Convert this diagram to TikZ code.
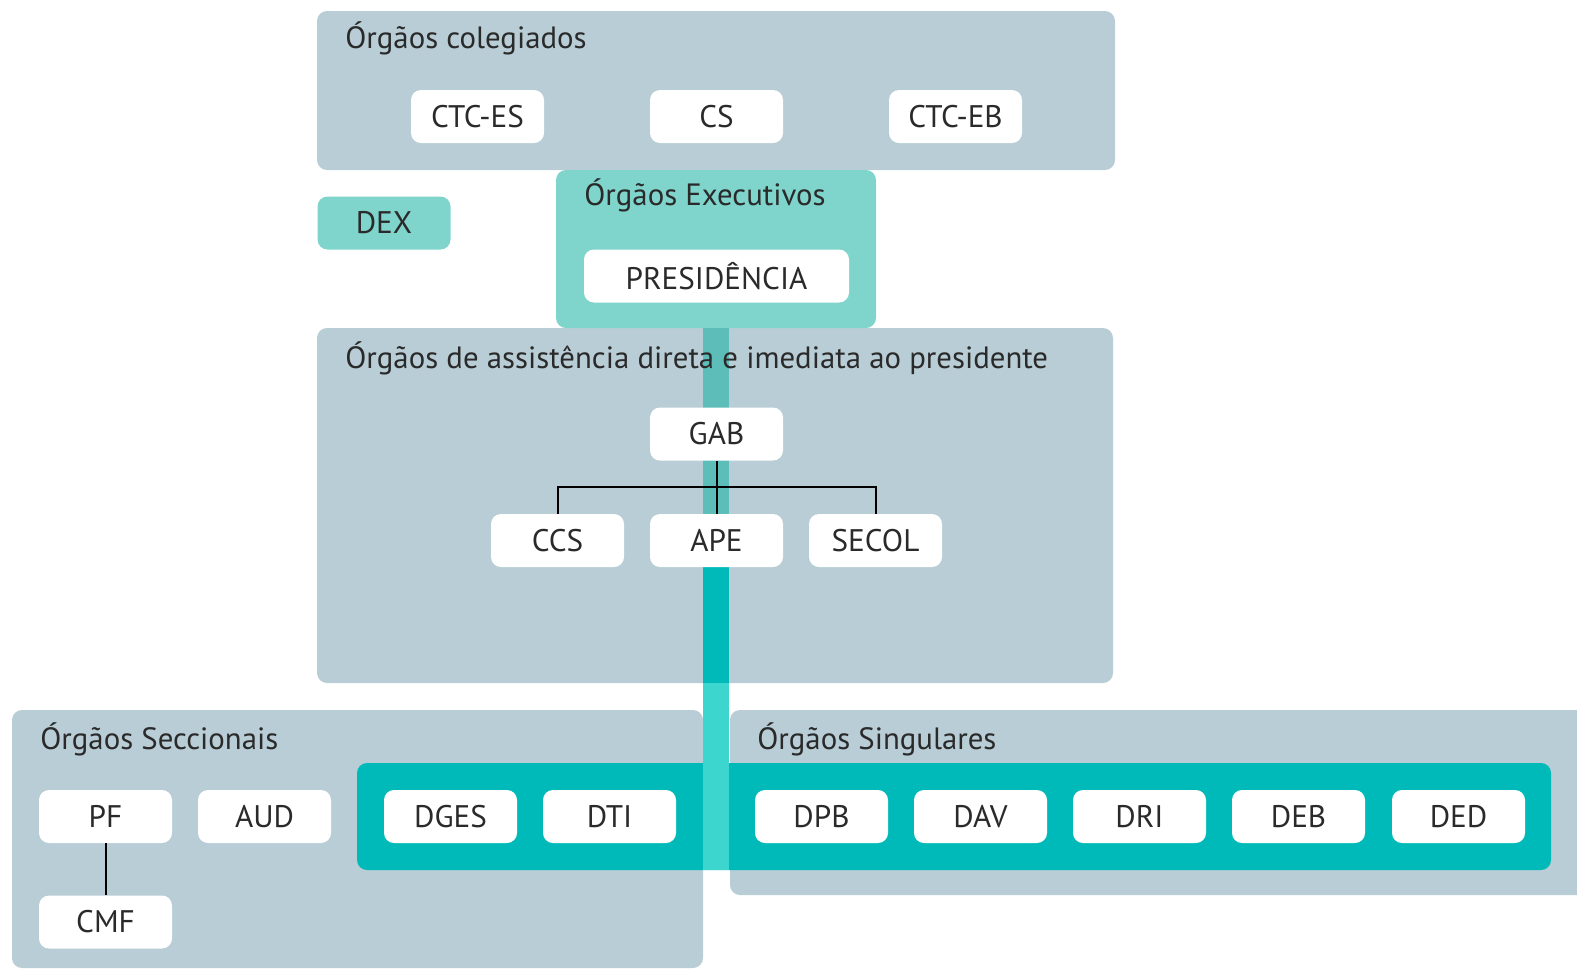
\documentclass[tikz,border=0pt]{standalone}
\usepackage{fontspec}
\setmainfont{PT Sans}
\usetikzlibrary{positioning}
\definecolor{panelgray}{HTML}{B8CDD5}
\definecolor{execteal}{HTML}{7FD5CC}
\definecolor{bandteal}{HTML}{00BABA}
\definecolor{barmid}{HTML}{5CBDB9}
\definecolor{barcyan}{HTML}{3DD6CF}
\definecolor{inktext}{HTML}{2A2A2A}
\tikzset{
  unitbox/.style={rectangle, rounded corners=5pt, fill=white, text=inktext,
    minimum width=66.5pt, minimum height=26.5pt, inner sep=0pt, font=\fontsize{15.6}{18}\selectfont},
  paneltitle/.style={anchor=base west, inner sep=0pt, text=inktext, font=\fontsize{15.4}{18}\selectfont},
  panel/.style={fill=panelgray, rounded corners=5pt},
}

\begin{document}
\begin{tikzpicture}[x=0.5pt, y=-0.5pt]
  \useasboundingbox (0,0) rectangle (1577,976);
  % panels
  \path[panel] (317,11) rectangle (1115,170);
  \path[panel] (317,328) rectangle (1113,683);
  \path[fill=execteal, rounded corners=5pt] (556,170) rectangle (876,328);
  \path[panel] (12,710) rectangle (703,968);
  \path[panel] (730,710) rectangle (1600,895);
  \path[fill=bandteal, rounded corners=5pt] (357,763) rectangle (1551,870);
  % vertical bar
  \fill[barmid] (703,328) rectangle (729,565);
  \fill[bandteal] (703,565) rectangle (729,683);
  \fill[barcyan] (703,683) rectangle (729,870);

  \node[paneltitle] (tColeg) at (345,48) {Órgãos colegiados};
  \node[paneltitle] (tExec)  at (584,205) {Órgãos Executivos};
  \node[paneltitle] (tAssist) at (345,368) {Órgãos de assistência direta e imediata ao presidente};
  \node[paneltitle] (tSecc)  at (40,749) {Órgãos Seccionais};
  \node[paneltitle] (tSing)  at (757,749) {Órgãos Singulares};

  \node[unitbox] (CTCES) at (477.5,116.5) {CTC-ES};
  \node[unitbox] (CS)    at (716.5,116.5) {CS};
  \node[unitbox] (CTCEB) at (955.5,116.5) {CTC-EB};

  \node[unitbox, fill=execteal] (DEX) at (384,223) {DEX};
  \node[unitbox, minimum width=132.5pt] (PRES) at (716.5,276) {PRESIDÊNCIA};

  \node[unitbox] (GAB)   at (716.5,434) {GAB};
  \node[unitbox] (CCS)   at (557.5,540.5) {CCS};
  \node[unitbox] (APE)   at (716.5,540.5) {APE};
  \node[unitbox] (SECOL) at (875.5,540.5) {SECOL};
  \coordinate (fork) at (716.5,487);
  \draw[line width=1pt] (GAB.south) -- (APE.north);
  \draw[line width=1pt] (CCS.north) |- (fork) -| (SECOL.north);

  \node[unitbox] (PF)   at (105.5,816.5) {PF};
  \node[unitbox] (AUD)  at (264.5,816.5) {AUD};
  \node[unitbox] (CMF)  at (105.5,922) {CMF};
  \draw[line width=1pt] (PF.south) -- (CMF.north);
  \node[unitbox] (DGES) at (450.5,816.5) {DGES};
  \node[unitbox] (DTI)  at (609.5,816.5) {DTI};

  \node[unitbox] (DPB) at (821.5,816.5) {DPB};
  \node[unitbox] (DAV) at (980.5,816.5) {DAV};
  \node[unitbox] (DRI) at (1139.5,816.5) {DRI};
  \node[unitbox] (DEB) at (1298.5,816.5) {DEB};
  \node[unitbox] (DED) at (1458.5,816.5) {DED};
\end{tikzpicture}
\end{document}
